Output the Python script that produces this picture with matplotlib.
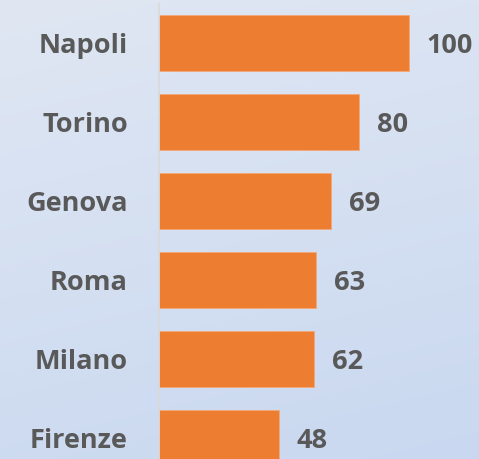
import numpy as np
import matplotlib.pyplot as plt
from matplotlib.colors import LinearSegmentedColormap

cities = ['Napoli', 'Torino', 'Genova', 'Roma', 'Milano', 'Firenze']
values = [100, 80, 69, 63, 62, 48]

bar_color = '#ED7D31'
text_color = '#595959'

fig = plt.figure(figsize=(4.79, 4.59), dpi=100)

# sfondo sfumato azzurro (leggermente diagonale)
bg = fig.add_axes([0, 0, 1, 1], zorder=0)
gx, gy = np.meshgrid(np.linspace(0, 1, 200), np.linspace(0, 1, 200))
grad = 0.8 * gy + 0.2 * gx
cmap = LinearSegmentedColormap.from_list('bg', ['#E0E7F3', '#C9D8F0'])
bg.imshow(grad, cmap=cmap, aspect='auto', extent=[0, 1, 1, 0], vmin=0, vmax=1)
bg.axis('off')

ax = fig.add_axes([158.5 / 479, 0, 320.5 / 479, 455 / 459], zorder=1)
ax.patch.set_alpha(0)

y = np.arange(len(cities))
bars = ax.barh(y, values, height=0.71, color=bar_color, edgecolor='#F4A878', linewidth=0.6)

for b, v in zip(bars, values):
    ax.annotate(str(v), (b.get_width(), b.get_y() + b.get_height() / 2),
                xytext=(13, 0), textcoords='offset points',
                ha='left', va='center_baseline', fontsize=19.5,
                fontweight='bold', family='Open Sans', color=text_color)

ax.set_xlim(0, 128.2)
ax.set_ylim(5.266, -0.494)
ax.set_yticks(y)
ax.set_yticklabels(cities, fontsize=19.5, fontweight='bold', family='Open Sans', color=text_color)
ax.tick_params(axis='y', length=0, pad=22)
ax.set_xticks([])
for s in ['top', 'right', 'bottom']:
    ax.spines[s].set_visible(False)
ax.spines['left'].set_color('#D9D9D9')
ax.spines['left'].set_linewidth(1.2)

plt.savefig('out.png', dpi=100)
